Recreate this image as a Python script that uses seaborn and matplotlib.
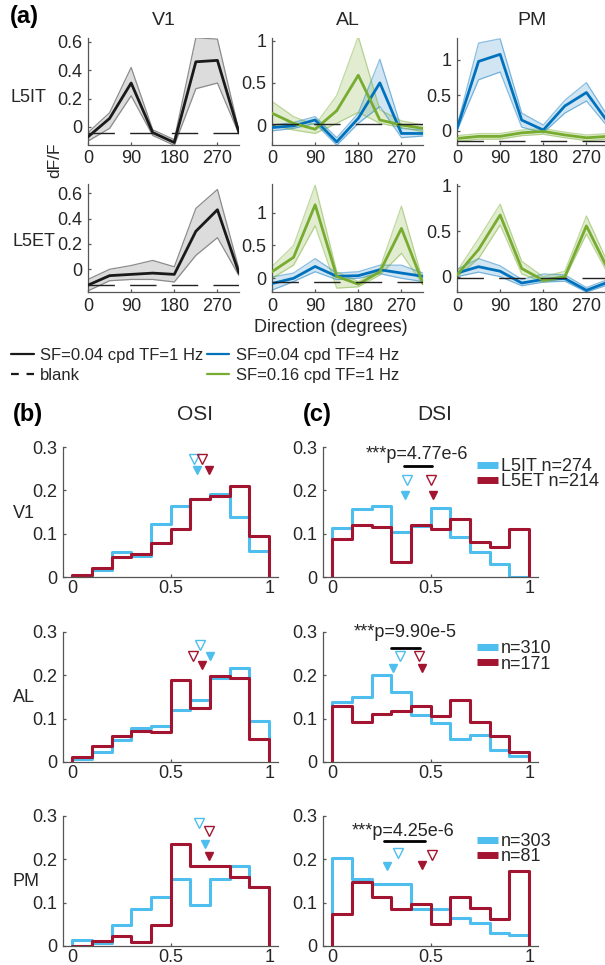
import numpy as np
import pandas as pd
import matplotlib
matplotlib.use("Agg")
import matplotlib.pyplot as plt
import seaborn as sns
from matplotlib.lines import Line2D

# ---------------- data: panel (a) tuning curves ----------------
directions = [0, 45, 90, 135, 180, 225, 270, 315]
dir_ticks = [0, 90, 180, 270]

# L5IT row
v1_it_k = [-0.07, 0.06, 0.31, -0.04, -0.11, 0.46, 0.47, -0.04]
v1_it_k_lo = [-0.10, -0.01, 0.22, -0.06, -0.13, 0.27, 0.31, -0.05]
v1_it_k_hi = [-0.04, 0.10, 0.42, -0.02, -0.09, 0.63, 0.62, -0.03]
v1_it_blank = -0.04

al_it_b = [-0.03, -0.01, 0.06, -0.20, 0.08, 0.50, -0.10, -0.10]
al_it_b_lo = [-0.07, -0.04, 0.02, -0.24, 0.02, 0.22, -0.15, -0.13]
al_it_b_hi = [0.00, 0.03, 0.10, -0.15, 0.14, 0.78, -0.04, -0.06]
al_it_g = [0.14, 0.02, -0.05, 0.17, 0.59, 0.06, 0.00, -0.04]
al_it_g_lo = [0.00, -0.06, -0.10, 0.02, 0.15, 0.02, -0.03, -0.08]
al_it_g_hi = [0.28, 0.10, 0.00, 0.35, 1.05, 0.18, 0.05, 0.00]
al_it_blank = 0.01

pm_it_b = [0.03, 0.98, 1.08, 0.15, 0.01, 0.35, 0.54, 0.12]
pm_it_b_lo = [0.00, 0.72, 0.83, 0.05, -0.03, 0.25, 0.42, 0.05]
pm_it_b_hi = [0.06, 1.24, 1.30, 0.25, 0.08, 0.43, 0.68, 0.20]
pm_it_g = [-0.11, -0.08, -0.08, -0.03, -0.01, -0.06, -0.10, -0.08]
pm_it_g_lo = [-0.15, -0.12, -0.12, -0.07, -0.05, -0.10, -0.14, -0.12]
pm_it_g_hi = [-0.07, -0.04, -0.04, 0.01, 0.03, -0.02, -0.06, -0.04]
pm_it_blank = -0.15

# L5ET row
v1_et_k = [-0.125, -0.05, -0.04, -0.03, -0.04, 0.30, 0.47, -0.03]
v1_et_k_lo = [-0.17, -0.09, -0.08, -0.08, -0.10, 0.11, 0.25, -0.05]
v1_et_k_hi = [-0.08, 0.00, 0.03, 0.07, 0.02, 0.48, 0.63, 0.00]
v1_et_blank = -0.12

al_et_b = [-0.08, 0.00, 0.18, 0.03, 0.04, 0.13, 0.08, 0.03]
al_et_b_lo = [-0.18, -0.05, 0.10, -0.02, 0.00, 0.07, 0.00, -0.05]
al_et_b_hi = [0.02, 0.08, 0.30, 0.08, 0.10, 0.20, 0.20, 0.08]
al_et_g = [0.10, 0.32, 1.12, 0.03, -0.09, 0.10, 0.76, -0.08]
al_et_g_lo = [0.00, 0.20, 0.80, -0.15, -0.13, 0.05, 0.38, -0.10]
al_et_g_hi = [0.18, 0.50, 1.42, 0.10, -0.05, 0.15, 1.10, -0.05]
al_et_blank = -0.05

pm_et_b = [0.04, 0.11, 0.06, -0.07, -0.03, -0.02, -0.15, -0.06]
pm_et_b_lo = [0.00, 0.05, 0.00, -0.10, -0.06, -0.05, -0.17, -0.09]
pm_et_b_hi = [0.08, 0.20, 0.12, -0.03, 0.03, 0.02, -0.12, -0.03]
pm_et_g = [0.02, 0.30, 0.68, 0.09, -0.04, 0.00, 0.56, 0.08]
pm_et_g_lo = [0.00, 0.20, 0.57, 0.03, -0.06, -0.02, 0.47, 0.03]
pm_et_g_hi = [0.06, 0.42, 0.80, 0.17, 0.00, 0.06, 0.67, 0.15]
pm_et_blank = -0.02

# ---------------- data: histograms (b) OSI, (c) DSI ----------------
bin_left = [0.0, 0.1, 0.2, 0.3, 0.4, 0.5, 0.6, 0.7, 0.8, 0.9]

osi_v1_it = [0.002, 0.016, 0.058, 0.049, 0.122, 0.163, 0.181, 0.191, 0.138, 0.060]
osi_v1_et = [0.004, 0.021, 0.047, 0.054, 0.078, 0.111, 0.181, 0.186, 0.209, 0.095]
osi_al_it = [0.006, 0.024, 0.050, 0.078, 0.083, 0.120, 0.143, 0.195, 0.217, 0.094]
osi_al_et = [0.011, 0.036, 0.060, 0.071, 0.070, 0.189, 0.124, 0.199, 0.194, 0.054]
osi_pm_it = [0.013, 0.008, 0.048, 0.086, 0.114, 0.154, 0.094, 0.155, 0.185, 0.137]
osi_pm_et = [0.000, 0.012, 0.023, 0.010, 0.048, 0.235, 0.185, 0.185, 0.159, 0.136]

dsi_v1_it = [0.112, 0.157, 0.164, 0.103, 0.118, 0.159, 0.093, 0.058, 0.029, 0.000]
dsi_v1_et = [0.087, 0.119, 0.115, 0.035, 0.119, 0.110, 0.134, 0.081, 0.070, 0.110]
dsi_al_it = [0.139, 0.149, 0.200, 0.161, 0.109, 0.090, 0.052, 0.063, 0.028, 0.015]
dsi_al_et = [0.130, 0.093, 0.111, 0.117, 0.130, 0.106, 0.142, 0.093, 0.059, 0.023]
dsi_pm_it = [0.204, 0.155, 0.144, 0.144, 0.085, 0.085, 0.065, 0.052, 0.029, 0.026]
dsi_pm_et = [0.073, 0.148, 0.112, 0.085, 0.098, 0.050, 0.112, 0.087, 0.062, 0.172]

# triangle markers: (x, y) for open IT, open ET, filled IT, filled ET
osi_v1_marks = [(0.618, 0.273), (0.661, 0.273), (0.634, 0.246), (0.695, 0.246)]
osi_al_marks = [(0.651, 0.269), (0.614, 0.245), (0.698, 0.245), (0.659, 0.224)]
osi_pm_marks = [(0.642, 0.285), (0.692, 0.265), (0.672, 0.235), (0.695, 0.208)]
dsi_v1_marks = [(0.379, 0.223), (0.499, 0.223), (0.371, 0.190), (0.513, 0.190)]
dsi_al_marks = [(0.345, 0.245), (0.439, 0.245), (0.308, 0.218), (0.453, 0.218)]
dsi_pm_marks = [(0.331, 0.214), (0.508, 0.209), (0.276, 0.185), (0.455, 0.186)]

sig_texts = ["***p=4.77e-6", "***p=9.90e-5", "***p=4.25e-6"]
sig_bars = [(0.362, 0.508, 0.256), (0.299, 0.444, 0.262), (0.262, 0.469, 0.242)]
sig_text_pos = [(0.43, 0.283), (0.371, 0.298), (0.36, 0.265)]
legend_labels = [["L5IT n=274", "L5ET n=214"], ["n=310", "n=171"], ["n=303", "n=81"]]
row_names = ["V1", "AL", "PM"]

# ---------------- style ----------------
sns.set_style("ticks")
plt.rcParams["font.family"] = ["Liberation Sans", "DejaVu Sans"]
TXT = "#262626"
SPINE = "#555555"
plt.rcParams.update({
    "axes.edgecolor": SPINE, "axes.linewidth": 0.9,
    "xtick.color": SPINE, "ytick.color": SPINE,
    "xtick.labelcolor": TXT, "ytick.labelcolor": TXT,
    "xtick.direction": "in", "ytick.direction": "in",
    "xtick.major.size": 2.5, "ytick.major.size": 2.5,
    "xtick.major.width": 0.9, "ytick.major.width": 0.9,
    "xtick.labelsize": 13, "ytick.labelsize": 13,
})

C_K = "#1a1a1a"
C_B = "#0072BD"
C_G = "#77AC30"
C_IT = "#4DBEEE"
C_ET = "#A2142F"

W, H = 605, 965
fig = plt.figure(figsize=(W / 100, H / 100), dpi=100)


def add_ax(left, top, width, height):
    return fig.add_axes([left / W, 1 - (top + height) / H, width / W, height / H])


def style_ax(ax, xpad=4):
    sns.despine(ax=ax)
    ax.tick_params(axis="y", pad=4)
    ax.tick_params(axis="x", pad=xpad)


def tuning(ax, mean, lo, hi, color, shade, edge):
    ax.fill_between(directions, lo, hi, color=shade, lw=0, zorder=1)
    sns.lineplot(x=directions, y=lo, ax=ax, color=edge, lw=0.9, zorder=2)
    sns.lineplot(x=directions, y=hi, ax=ax, color=edge, lw=0.9, zorder=2)


def mean_line(ax, mean, color):
    sns.lineplot(x=directions, y=mean, ax=ax, color=color, lw=2.0, zorder=4)


def blank_line(ax, level):
    sns.lineplot(x=[directions[0], directions[-1]], y=[level, level], ax=ax,
                 color="#222222", lw=1.0, dashes=False, zorder=5)
    ax.lines[-1].set_dashes([19, 11])


# panel (a) layout
lefts = [88, 272, 457]
tops = [38, 184]
heights_a = [106.5, 108]
ylims_a = [
    [(-0.124, 0.628), (-0.231, 1.032), (-0.195, 1.311)],
    [(-0.179, 0.673), (-0.209, 1.437), (-0.169, 1.022)],
]
yticks_a = [[0, 0.2, 0.4, 0.6], [0, 0.5, 1], [0, 0.5, 1]]
yticklabels_a = [["0", "0.2", "0.4", "0.6"], ["0", "0.5", "1"], ["0", "0.5", "1"]]

SH_K, ED_K = "#dcdcdc", "#8c8c8c"
SH_B, ED_B = (0.0, 0.447, 0.741, 0.18), (0.0, 0.447, 0.741, 0.45)
SH_G, ED_G = (0.467, 0.675, 0.188, 0.22), (0.467, 0.675, 0.188, 0.45)

rows_data = [
    [
        ("k", v1_it_k, v1_it_k_lo, v1_it_k_hi, v1_it_blank),
        ("bg", (al_it_b, al_it_b_lo, al_it_b_hi), (al_it_g, al_it_g_lo, al_it_g_hi), al_it_blank),
        ("bg", (pm_it_b, pm_it_b_lo, pm_it_b_hi), (pm_it_g, pm_it_g_lo, pm_it_g_hi), pm_it_blank),
    ],
    [
        ("k", v1_et_k, v1_et_k_lo, v1_et_k_hi, v1_et_blank),
        ("bg", (al_et_b, al_et_b_lo, al_et_b_hi), (al_et_g, al_et_g_lo, al_et_g_hi), al_et_blank),
        ("bg", (pm_et_b, pm_et_b_lo, pm_et_b_hi), (pm_et_g, pm_et_g_lo, pm_et_g_hi), pm_et_blank),
    ],
]

for r in range(2):
    for c in range(3):
        ax = add_ax(lefts[c], tops[r], 151, heights_a[r])
        d = rows_data[r][c]
        if d[0] == "k":
            _, m, lo, hi, bl = d
            tuning(ax, m, lo, hi, C_K, SH_K, ED_K)
            mean_line(ax, m, C_K)
            blank_line(ax, bl)
        else:
            _, (bm, blo, bhi), (gm, glo, ghi), bl = d
            tuning(ax, bm, blo, bhi, C_B, SH_B, ED_B)
            tuning(ax, gm, glo, ghi, C_G, SH_G, ED_G)
            mean_line(ax, bm, C_B)
            mean_line(ax, gm, C_G)
            blank_line(ax, bl)
        ax.set_xlim(0, 315)
        ax.set_ylim(*ylims_a[r][c])
        ax.set_xticks(dir_ticks)
        ax.set_xticklabels([str(t) for t in dir_ticks])
        ax.set_yticks(yticks_a[c])
        ax.set_yticklabels(yticklabels_a[c])
        ax.set_xlabel("")
        ax.set_ylabel("")
        style_ax(ax)
        if r == 0:
            ax.set_title(row_names[c], fontsize=14, color=TXT, pad=9)

fig.text(10 / W, 1 - 17 / H, "(a)", fontsize=17, fontweight="bold", color="black", va="center", ha="left")
fig.text(10 / W, 1 - 97 / H, "L5IT", fontsize=13, color=TXT, va="center", ha="left")
fig.text(13 / W, 1 - 241 / H, "L5ET", fontsize=13, color=TXT, va="center", ha="left")
fig.text(55 / W, 1 - 160 / H, "dF/F", fontsize=12.5, color=TXT, va="center", ha="center", rotation=90)
fig.text(331 / W, 1 - 327 / H, "Direction (degrees)", fontsize=13, color=TXT, va="center", ha="center")

leg_handles = [
    Line2D([], [], color=C_K, lw=1.6),
    Line2D([], [], color=C_K, lw=1.6, dashes=[3.5, 3.5]),
    Line2D([], [], color=C_B, lw=1.6),
    Line2D([], [], color=C_G, lw=1.6),
]
leg_labels = ["SF=0.04 cpd TF=1 Hz", "blank", "SF=0.04 cpd TF=4 Hz", "SF=0.16 cpd TF=1 Hz"]
fig.legend(leg_handles, leg_labels, ncol=2, loc="upper left",
           bbox_to_anchor=(11 / W, 1 - 348 / H), frameon=False, fontsize=12,
           handlelength=1.35, handletextpad=0.4, columnspacing=0.2,
           labelspacing=0.3, borderpad=0, borderaxespad=0, labelcolor=TXT)

# panels (b), (c)
hist_tops = [447, 632, 816]
osi_sets = [(osi_v1_it, osi_v1_et, osi_v1_marks), (osi_al_it, osi_al_et, osi_al_marks),
            (osi_pm_it, osi_pm_et, osi_pm_marks)]
dsi_sets = [(dsi_v1_it, dsi_v1_et, dsi_v1_marks), (dsi_al_it, dsi_al_et, dsi_al_marks),
            (dsi_pm_it, dsi_pm_et, dsi_pm_marks)]
legend_tops = [0.915, 0.935, 0.87]


def hist_steps(ax, heights, color):
    xs = [0.0] + bin_left + [1.0]
    ys = [0.0] + list(heights) + [0.0]
    sns.lineplot(x=xs, y=ys, ax=ax, color=color, lw=2.2, estimator=None,
                 sort=False, drawstyle="steps-post")


def triangles(ax, marks):
    (xo1, yo1), (xo2, yo2), (xf1, yf1), (xf2, yf2) = marks
    ax.plot([xo1], [yo1], marker="v", ms=6.5, mfc="none", mec=C_IT, mew=1.0, ls="none")
    ax.plot([xo2], [yo2], marker="v", ms=6.5, mfc="none", mec=C_ET, mew=1.0, ls="none")
    ax.plot([xf1], [yf1], marker="v", ms=5.5, mfc=C_IT, mec=C_IT, ls="none")
    ax.plot([xf2], [yf2], marker="v", ms=5.5, mfc=C_ET, mec=C_ET, ls="none")


def hist_axes(ax):
    ax.set_xlim(-0.048, 1.045)
    ax.set_ylim(0, 0.3)
    ax.set_xticks([0, 0.5, 1])
    ax.set_xticklabels(["0", "0.5", "1"])
    ax.set_yticks([0, 0.1, 0.2, 0.3])
    ax.set_yticklabels(["0", "0.1", "0.2", "0.3"])
    ax.set_xlabel("")
    ax.set_ylabel("")
    style_ax(ax, xpad=2)


for i in range(3):
    ax = add_ax(63, hist_tops[i], 215, 130)
    it, et, mk = osi_sets[i]
    hist_steps(ax, it, C_IT)
    hist_steps(ax, et, C_ET)
    triangles(ax, mk)
    hist_axes(ax)
    fig.text(13 / W, 1 - (hist_tops[i] + 66) / H, row_names[i], fontsize=13, color=TXT,
             va="center", ha="left")

    ax = add_ax(323, hist_tops[i], 215, 130)
    it, et, mk = dsi_sets[i]
    hist_steps(ax, it, C_IT)
    hist_steps(ax, et, C_ET)
    triangles(ax, mk)
    x0, x1, yb = sig_bars[i]
    ax.plot([x0, x1], [yb, yb], color="black", lw=2.0)
    tx, ty = sig_text_pos[i]
    ax.text(tx, ty, sig_texts[i], fontsize=13, color=TXT, ha="center", va="center")
    hist_axes(ax)
    handles = [Line2D([], [], color=C_IT, lw=5, solid_capstyle="butt"),
               Line2D([], [], color=C_ET, lw=5, solid_capstyle="butt")]
    ax.legend(handles, legend_labels[i], loc="upper left",
              bbox_to_anchor=(0.715, legend_tops[i]), frameon=False, fontsize=13,
              handlelength=1.2, handletextpad=0.15, labelspacing=-0.1,
              borderpad=0, borderaxespad=0, labelcolor=TXT)

fig.text(13 / W, 1 - 415 / H, "(b)", fontsize=17, fontweight="bold", color="black", va="center", ha="left")
fig.text(195 / W, 1 - 415 / H, "OSI", fontsize=15, color=TXT, va="center", ha="center")
fig.text(303 / W, 1 - 415 / H, "(c)", fontsize=17, fontweight="bold", color="black", va="center", ha="left")
fig.text(435 / W, 1 - 415 / H, "DSI", fontsize=15, color=TXT, va="center", ha="center")

fig.savefig("out.png", dpi=100)
